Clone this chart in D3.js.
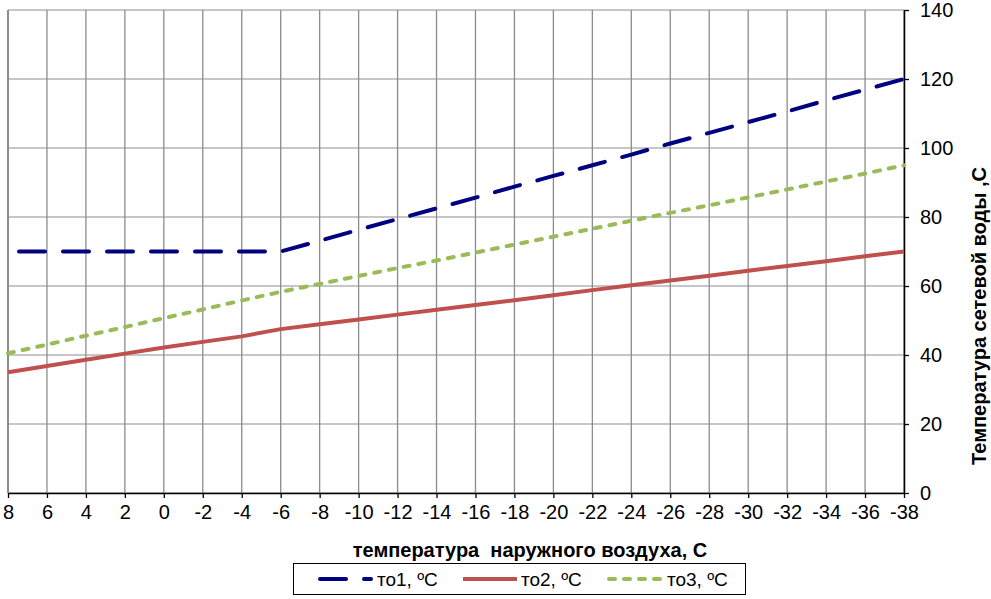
<!DOCTYPE html>
<html><head><meta charset="utf-8">
<script src="https://cdn.jsdelivr.net/npm/d3@7/dist/d3.min.js"></script>
<style>body{margin:0;background:#fff}svg{display:block;font-family:"Liberation Sans",Arial,sans-serif}</style>
</head><body><svg id="c" width="991" height="599"></svg>
<script>
const temps = [8,6,4,2,0,-2,-4,-6,-8,-10,-12,-14,-16,-18,-20,-22,-24,-26,-28,-30,-32,-34,-36,-38];
const to1 = [70,70,70,70,70,70,70,70,73.1,76.3,79.4,82.5,85.6,88.8,91.9,95.0,98.1,101.3,104.4,107.5,110.6,113.8,116.9,120];
const to2 = [35,36.8,38.6,40.4,42.2,43.8,45.4,47.5,48.9,50.3,51.7,53.1,54.5,55.9,57.3,58.8,60.2,61.6,63.0,64.4,65.8,67.2,68.6,70];
const to3 = [40.5,43.0,45.6,48.1,50.7,53.2,55.8,58.3,60.6,62.9,65.2,67.4,69.7,72.0,74.3,76.6,78.9,81.2,83.4,85.7,88.0,90.3,92.6,95];
const yTicks = [0,20,40,60,80,100,120,140];
const seriesNames = ["то1, ºC","то2, ºC","то3, ºC"];
const xTitle = "температура  наружного воздуха, С";
const yTitle = "Температура сетевой воды ,С";

const svg = d3.select("#c");
const L=8,R=904,T=10,B=493;
const x = d3.scaleLinear().domain([8,-38]).range([L,R]);
const y = d3.scaleLinear().domain([0,140]).range([B,T]);

// gridlines
svg.append("g").selectAll("line").data(yTicks).join("line")
  .attr("x1",L).attr("x2",R).attr("y1",d=>y(d)).attr("y2",d=>y(d))
  .attr("stroke","#b3b3b3").attr("stroke-width",1.3);
svg.append("g").selectAll("line").data(temps).join("line")
  .attr("x1",d=>x(d)).attr("x2",d=>x(d)).attr("y1",T).attr("y2",B)
  .attr("stroke","#8c8c8c").attr("stroke-width",d=>d===8?2:1.3);

// axes
const xAxis = svg.append("g").attr("transform",`translate(0,${B})`)
  .call(d3.axisBottom(x).tickValues(temps).tickSize(5).tickSizeOuter(0).tickPadding(7).tickFormat(d=>String(d)));
xAxis.select(".domain").attr("stroke","#000").attr("stroke-width",1.5);
xAxis.selectAll(".tick line").attr("stroke","#000").attr("stroke-width",1.3);
xAxis.selectAll("text").attr("font-size",20).attr("fill","#000");

const yAxis = svg.append("g").attr("transform",`translate(${R},0)`)
  .call(d3.axisRight(y).tickValues(yTicks).tickSize(5).tickSizeOuter(0).tickPadding(11));
yAxis.select(".domain").attr("stroke","#000").attr("stroke-width",1.5);
yAxis.selectAll(".tick line").attr("stroke","#000").attr("stroke-width",1.3);
yAxis.selectAll("text").attr("font-size",20).attr("fill","#000").attr("text-anchor","start");

// lines
const line = d3.line().x((d,i)=>x(temps[i])).y(d=>y(d));
const styles = [
  {data:to1,color:"#000080",dash:"26 18",off:33,cap:"round"},
  {data:to2,color:"#C0504D",dash:null,off:0,cap:"butt"},
  {data:to3,color:"#9BBB59",dash:"6 9",off:0,cap:"round"}
];
styles.forEach(s=>{
  svg.append("path").attr("d",line(s.data)).attr("fill","none")
    .attr("stroke",s.color).attr("stroke-width",4)
    .attr("stroke-linecap",s.cap)
    .attr("stroke-linejoin","round")
    .attr("stroke-dasharray",s.dash)
    .attr("stroke-dashoffset",s.off);
});

// titles
svg.append("text").attr("x",530).attr("y",557).attr("text-anchor","middle")
  .attr("font-size",20).attr("font-weight","bold").attr("xml:space","preserve")
  .style("white-space","pre").text(xTitle);
svg.append("text").attr("transform","translate(986,316) rotate(-90)")
  .attr("text-anchor","middle").attr("font-size",20).attr("font-weight","bold").text(yTitle);

// legend
const lg = svg.append("g");
lg.append("rect").attr("x",293.5).attr("y",563.5).attr("width",452).attr("height",31)
  .attr("fill","#fff").attr("stroke","#000").attr("stroke-width",1);
const lx = [[320,371],[463,517],[609,662]];
const tx = [377,521,667];
styles.forEach((s,i)=>{
  lg.append("line").attr("x1",lx[i][0]).attr("x2",lx[i][1]).attr("y1",579).attr("y2",579)
    .attr("stroke",s.color).attr("stroke-width",4)
    .attr("stroke-linecap",s.cap)
    .attr("stroke-dasharray",s.dash);
  lg.append("text").attr("x",tx[i]).attr("y",586).attr("font-size",19).text(seriesNames[i]);
});
</script></body></html>
